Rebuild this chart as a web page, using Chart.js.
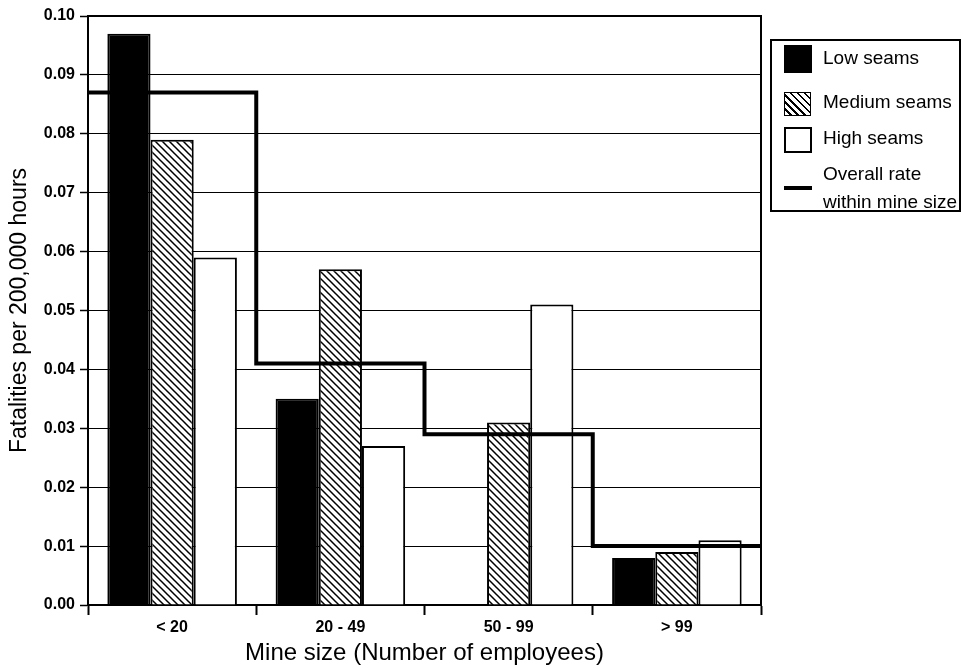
<!DOCTYPE html>
<html><head><meta charset="utf-8">
<script src="https://cdn.jsdelivr.net/npm/chart.js@4/dist/chart.umd.min.js"></script>
<style>
html,body{margin:0;padding:0;background:#fff;}
#wrap{position:relative;width:963px;height:668px;}
canvas{display:block;}
#legend{position:absolute;left:770px;top:39px;width:191px;height:173px;box-sizing:border-box;border:2px solid #000;font-family:"Liberation Sans",Arial,sans-serif;font-size:19px;color:#000;background:#fff;}
.sw{position:absolute;left:12px;box-sizing:border-box;}
.lbl{position:absolute;left:51px;line-height:28px;white-space:nowrap;}
</style></head>
<body><div id="wrap"><canvas id="c" width="963" height="668"></canvas><div id="legend"></div></div>
<script>
const categories = ['< 20', '20 - 49', '50 - 99', '> 99'];
const lowSeams = [0.097, 0.035, 0, 0.008];
const mediumSeams = [0.079, 0.057, 0.031, 0.009];
const highSeams = [0.059, 0.027, 0.051, 0.011];
const overallRate = [0.087, 0.041, 0.029, 0.010];
const seriesLabels = ['Low seams', 'Medium seams', 'High seams', 'Overall rate\nwithin mine size'];

const FONT = "'Liberation Sans', Arial, Helvetica, sans-serif";
Chart.defaults.font.family = FONT;
Chart.defaults.color = '#000';

const canvas = document.getElementById('c');
const ctx = canvas.getContext('2d');

function makeHatch() {
  const s = 7;
  const c = document.createElement('canvas');
  c.width = s; c.height = s;
  const g = c.getContext('2d');
  g.fillStyle = '#fff'; g.fillRect(0, 0, s, s);
  g.strokeStyle = '#000'; g.lineWidth = 1.5;
  g.beginPath();
  g.moveTo(-1, -1); g.lineTo(s + 1, s + 1);
  g.moveTo(-1, s - 1); g.lineTo(1, s + 1);
  g.moveTo(s - 1, -1); g.lineTo(s + 1, 1);
  g.stroke();
  return ctx.createPattern(c, 'repeat');
}
const hatch = makeHatch();

// category i sits at x = i on a linear axis; its group spans i-0.5 .. i+0.5
const toPoints = arr => arr.map((v, i) => ({x: i, y: v}));
// step line: value of group i holds from the group's left edge to its right edge
const overallPoints = overallRate.map((v, i) => ({x: i - 0.5, y: v}));
overallPoints.push({x: overallRate.length - 0.5, y: overallRate[overallRate.length - 1]});

const framePlugin = {
  id: 'frame',
  beforeDatasetsDraw(chart) {
    const {ctx: c, chartArea: a} = chart;
    c.save();
    c.strokeStyle = '#000'; c.lineWidth = 2;
    c.beginPath();
    c.moveTo(a.left, a.top); c.lineTo(a.right, a.top); c.lineTo(a.right, a.bottom);
    c.stroke();
    c.restore();
  }
};

const barCommon = {borderColor: '#000', borderWidth: 2, categoryPercentage: 0.77, barPercentage: 1, order: 1};

new Chart(ctx, {
  type: 'bar',
  data: {
    datasets: [
      Object.assign({label: seriesLabels[0], data: toPoints(lowSeams), backgroundColor: '#000'}, barCommon),
      Object.assign({label: seriesLabels[1], data: toPoints(mediumSeams), backgroundColor: hatch}, barCommon),
      Object.assign({label: seriesLabels[2], data: toPoints(highSeams), backgroundColor: '#fff'}, barCommon),
      {type: 'line', label: seriesLabels[3], data: overallPoints, stepped: 'before',
       borderColor: '#000', borderWidth: 4, pointRadius: 0, fill: false, order: 0,
       borderCapStyle: 'butt', borderJoinStyle: 'miter'}
    ]
  },
  options: {
    responsive: false,
    animation: false,
    layout: {padding: {left: 0, top: 16, right: 202, bottom: 0}},
    plugins: {legend: {display: false}, tooltip: {enabled: false}},
    scales: {
      x: {
        type: 'linear', offset: false, min: -0.5, max: categories.length - 0.5,
        afterBuildTicks(s) { s.ticks = categories.map((_, i) => ({value: i})); },
        grid: {display: true, drawOnChartArea: false, drawTicks: true, tickLength: 10, tickWidth: 2, tickColor: '#000', offset: true},
        border: {display: true, color: '#000', width: 2},
        ticks: {color: '#000', font: {size: 16, weight: 'bold'}, padding: 3, maxRotation: 0, autoSkip: false,
                callback: v => categories[v]},
        title: {display: true, text: 'Mine size (Number of employees)', color: '#000', font: {size: 24}, padding: 0},
        afterFit(s) { s.height = 63; }
      },
      y: {
        min: 0, max: 0.1,
        ticks: {stepSize: 0.01, callback: v => Number(v).toFixed(2), color: '#000', font: {size: 16, weight: 'bold'}, padding: 5},
        grid: {color: '#000', lineWidth: 1, tickLength: 8, tickColor: '#000', tickWidth: 1.5},
        border: {display: true, color: '#000', width: 2},
        title: {display: true, text: 'Fatalities per 200,000 hours', color: '#000', font: {size: 23}, padding: {top: 6, bottom: 0}},
        afterFit(s) { s.width = 88; }
      }
    }
  },
  plugins: [framePlugin]
});

// HTML legend
const legend = document.getElementById('legend');
const legendItems = [
  {label: seriesLabels[0], sw: {top: 4, w: 28, h: 28, bg: '#000', border: 'none'}, textTop: 3},
  {label: seriesLabels[1], sw: {top: 51, w: 27, h: 24, bg: 'repeating-linear-gradient(45deg,#fff 0px,#fff 3.4px,#000 3.4px,#000 5px)', border: '1.5px solid #000'}, textTop: 47},
  {label: seriesLabels[2], sw: {top: 86, w: 28, h: 26, bg: '#fff', border: '2px solid #000'}, textTop: 83},
  {label: seriesLabels[3], sw: {top: 145, w: 28, h: 4, bg: '#000', border: 'none'}, textTop: 119}
];
legendItems.forEach(it => {
  const s = document.createElement('div');
  s.className = 'sw';
  s.style.top = it.sw.top + 'px'; s.style.width = it.sw.w + 'px'; s.style.height = it.sw.h + 'px';
  s.style.background = it.sw.bg; s.style.border = it.sw.border;
  legend.appendChild(s);
  const t = document.createElement('div');
  t.className = 'lbl';
  t.style.top = it.textTop + 'px';
  it.label.split('\n').forEach((line, i) => {
    if (i) t.appendChild(document.createElement('br'));
    t.appendChild(document.createTextNode(line));
  });
  legend.appendChild(t);
});
</script>
</body></html>
